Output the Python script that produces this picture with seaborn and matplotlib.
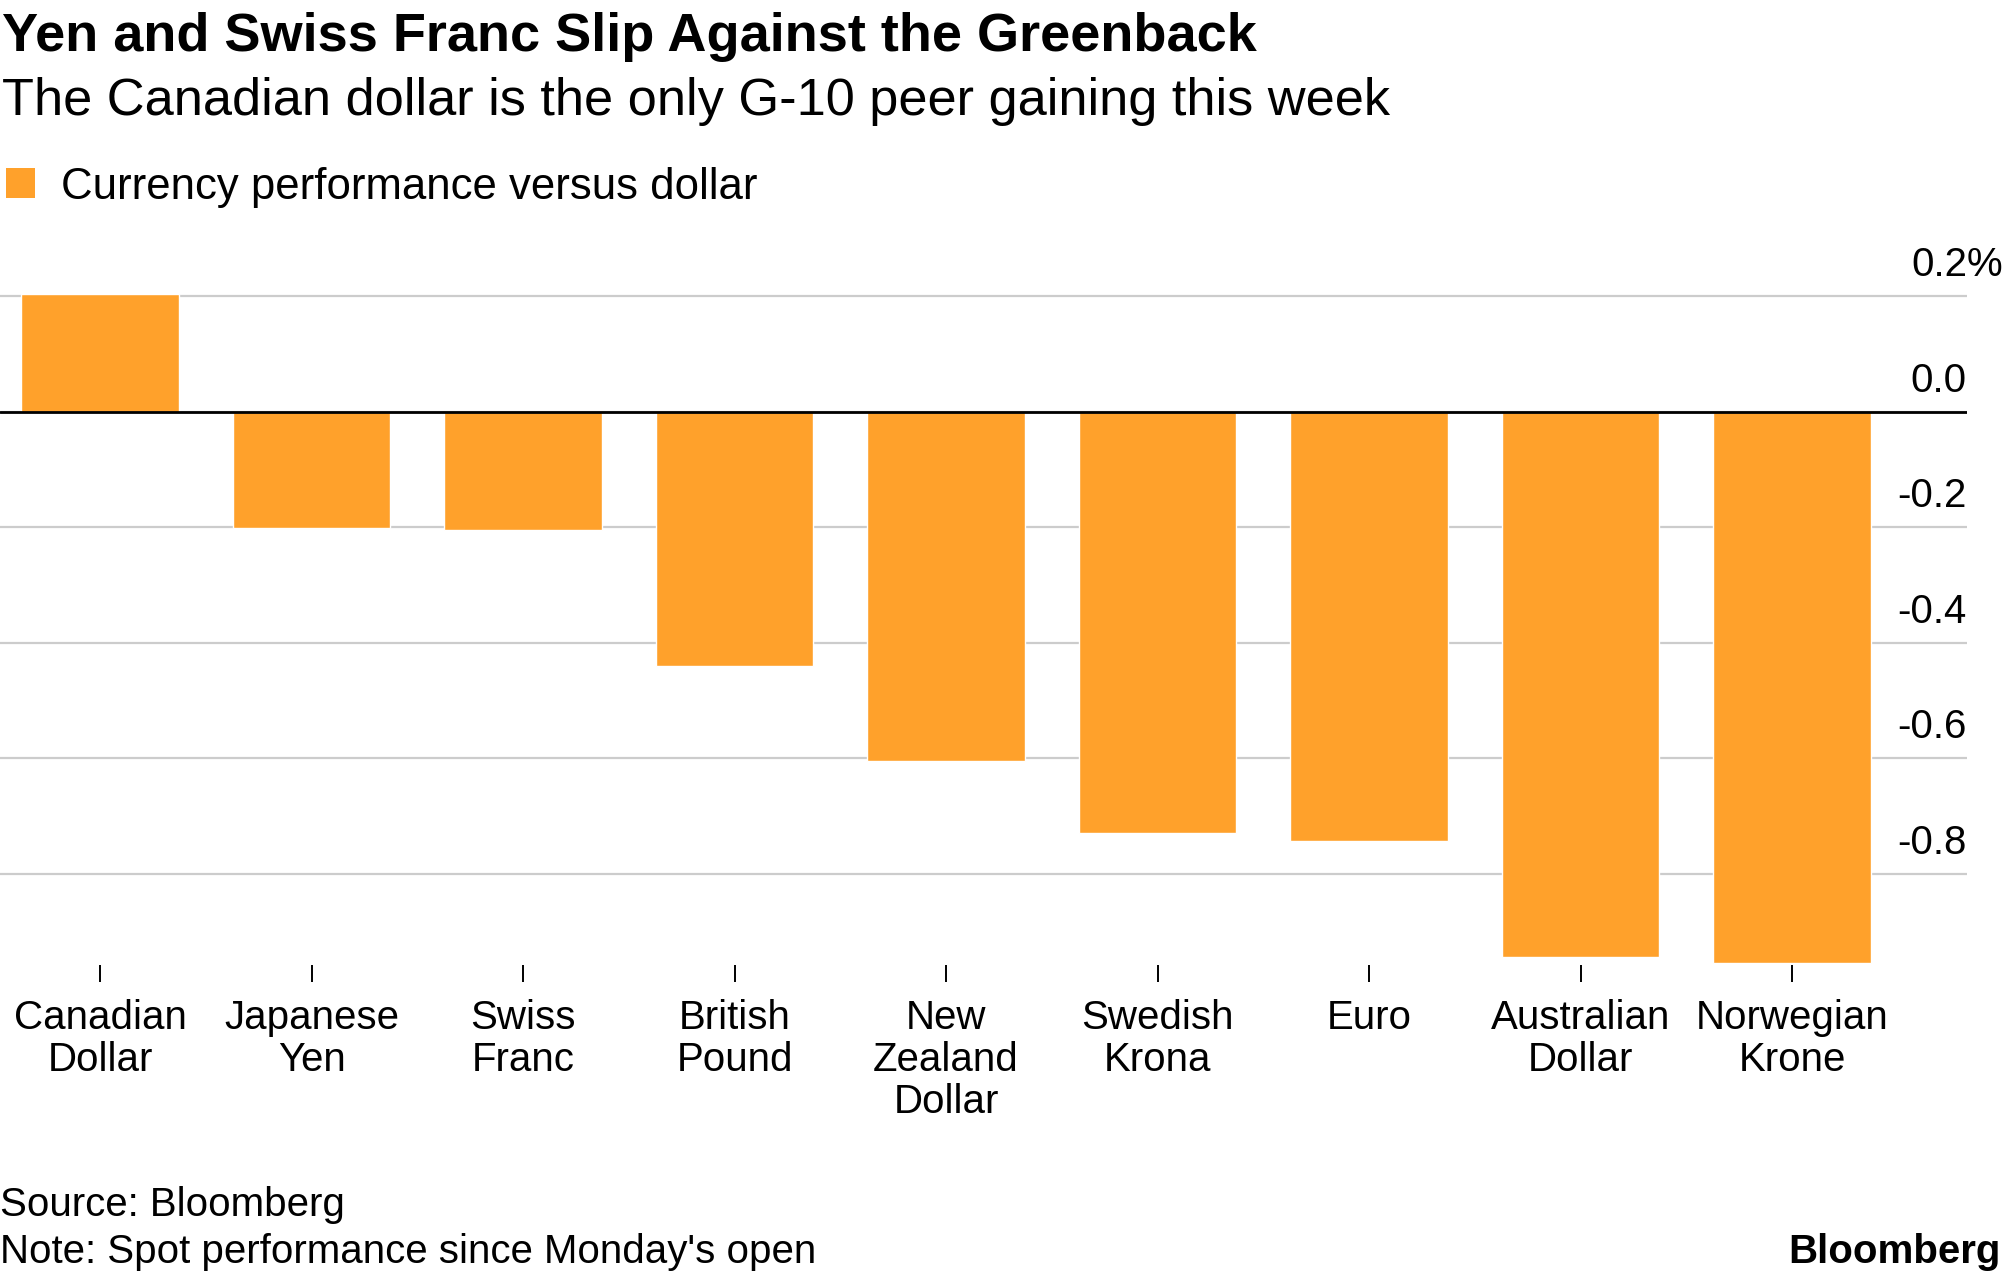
import matplotlib
matplotlib.use("Agg")
import matplotlib.pyplot as plt
import matplotlib.transforms as mtransforms
from matplotlib.patches import Patch
import seaborn as sns

# data (% change vs USD)
currencies = ["Canadian\nDollar", "Japanese\nYen", "Swiss\nFranc", "British\nPound",
              "New\nZealand\nDollar", "Swedish\nKrona", "Euro", "Australian\nDollar",
              "Norwegian\nKrone"]
performance = [0.204, -0.202, -0.205, -0.44, -0.605, -0.73, -0.744, -0.945, -0.955]
y_ticks = [-0.8, -0.6, -0.4, -0.2, 0.0, 0.2]
y_tick_labels = ["-0.8", "-0.6", "-0.4", "-0.2", "0.0", "0.2"]

ORANGE = "#FFA12B"

sns.set_style("white")
plt.rcParams['font.family'] = ['Liberation Sans', 'DejaVu Sans']
plt.rcParams['text.color'] = 'black'
plt.rcParams['xtick.color'] = 'black'
plt.rcParams['xtick.labelcolor'] = 'black'

fig = plt.figure(figsize=(20.05, 12.78), dpi=100)
ax = fig.add_axes([0.0, 0.2451, 0.981, 0.5457])

sns.barplot(x=currencies, y=performance, color=ORANGE, saturation=1,
            width=0.745, ax=ax, zorder=2)

ax.set_xlim(-0.473, 8.827)
ax.set_ylim(-0.958, 0.25)
ax.set_yticks(y_ticks)
ax.grid(axis='y', color='#cccccc', lw=1.6, zorder=0)
ax.grid(axis='x', visible=False)
ax.set_axisbelow(True)
ax.axhline(0, color='black', lw=2, zorder=3)
for s in ax.spines.values():
    s.set_visible(False)

ax.tick_params(axis='y', length=0, labelleft=False)
ax.tick_params(axis='x', direction='out', length=12, width=1.4, color='black',
               pad=13, labelsize=29, labelcolor='black', bottom=True)
for lab in ax.get_xticklabels():
    lab.set_linespacing(1.12)
ax.set_xlabel("")
ax.set_ylabel("")

# y labels sit above the gridlines, right aligned
trans = mtransforms.blended_transform_factory(ax.transAxes, ax.transData)
for v, t in zip(y_ticks, y_tick_labels):
    ax.annotate(t, xy=(1.0, v), xycoords=trans, xytext=(0, 14.4),
                textcoords='offset points', ha='right', va='baseline',
                fontsize=29, color='black', annotation_clip=False)
ax.annotate("%", xy=(1.0, 0.2), xycoords=trans, xytext=(0, 14.4),
            textcoords='offset points', ha='left', va='baseline',
            fontsize=29, color='black', annotation_clip=False)

# titles
fig.text(0.001, 0.960, "Yen and Swiss Franc Slip Against the Greenback",
         fontsize=39, fontweight='bold', ha='left', va='baseline', color='black')
fig.text(0.001, 0.910, "The Canadian dollar is the only G-10 peer gaining this week",
         fontsize=37.7, ha='left', va='baseline', color='black')

# legend
handle = Patch(facecolor=ORANGE, edgecolor='none')
leg = fig.legend([handle], ["Currency performance versus dollar"], loc='center left',
                 bbox_to_anchor=(0.003, 1 - 187 / 1278), frameon=False, fontsize=31.5,
                 handlelength=0.66, handleheight=0.66, handletextpad=0.6,
                 borderpad=0, borderaxespad=0)
for t in leg.get_texts():
    t.set_color('black')

# footer
fig.text(0.0, 0.0485, "Source: Bloomberg", fontsize=29, ha='left', va='baseline',
         color='black')
fig.text(0.0, 0.0117, "Note: Spot performance since Monday's open", fontsize=29,
         ha='left', va='baseline', color='black')
fig.text(0.998, 0.0117, "Bloomberg", fontsize=29, fontweight='bold',
         ha='right', va='baseline', color='black')

fig.savefig("out.png", dpi=100)
